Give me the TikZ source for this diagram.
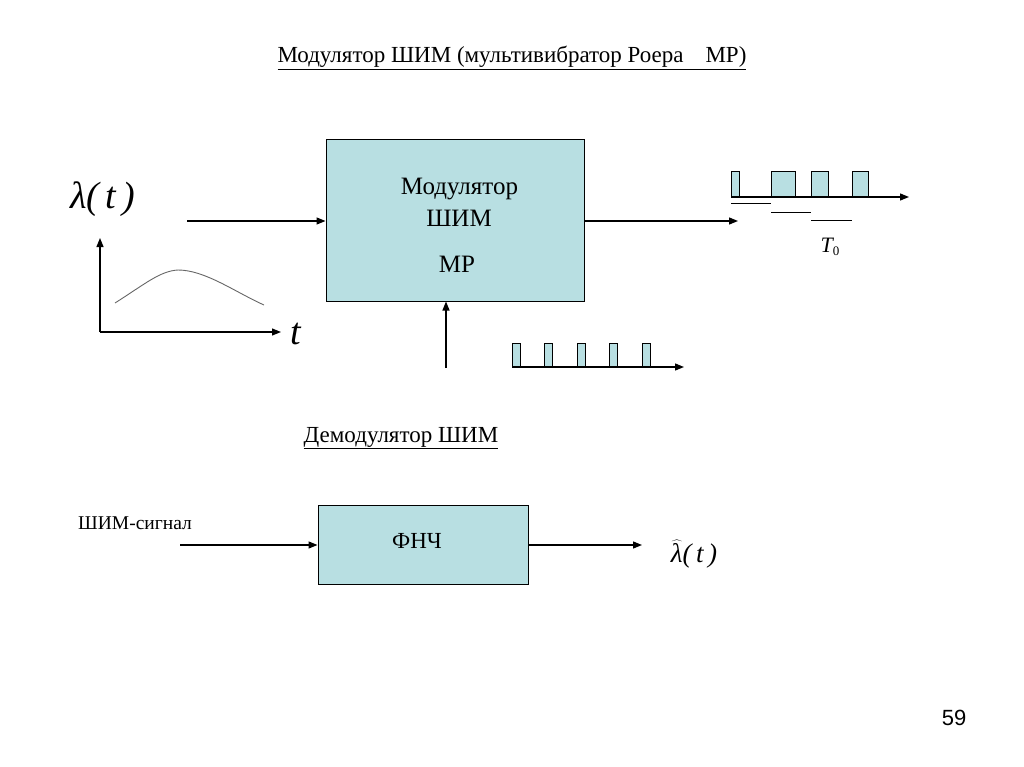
\documentclass[tikz,border=0pt]{standalone}
\usepackage{fontspec}
\setmainfont{Liberation Serif}
\newfontfamily\numfont{Liberation Sans}
\usetikzlibrary{arrows.meta}
\definecolor{boxfill}{HTML}{B8DFE2}
\begin{document}
\begin{tikzpicture}[x=1pt,y=-1pt,
  blk/.style={draw=black,fill=boxfill,line width=1pt,inner sep=0pt},
  arr/.style={line width=1.3pt,-{Triangle[length=9pt,width=7pt]}},
  pulse/.style={draw=black,fill=boxfill,line width=1pt},
  txt/.style={inner sep=0pt,font=\fontsize{23}{25}\selectfont}]
\useasboundingbox (0,0) rectangle (1024,767);
% title
\node[txt,anchor=base] (title) at (512,63) {\underline{Модулятор ШИМ (мультивибратор Роера\hspace{22pt}МР)}};
% modulator box
\node[blk,minimum width=258pt,minimum height=161pt] (mod) at (455,220.5) {};
\node[txt,anchor=base,font=\fontsize{25}{27}\selectfont] (m1) at (459.5,195) {Модулятор};
\node[txt,anchor=base,font=\fontsize{25}{27}\selectfont] (m2) at (459,226) {ШИМ};
\node[txt,anchor=base,font=\fontsize{25}{27}\selectfont] (m3) at (457,272) {МР};
% input
\coordinate (inA) at (187,221);
\draw[arr] (inA) -- (mod.west |- inA);
\node[txt,anchor=base,font=\fontsize{38}{40}\selectfont\itshape] (lam) at (103,209) {λ(\,t\,)};
% axes
\coordinate (org) at (100,332);
\coordinate (yend) at (100,238);
\coordinate (xend) at (281,332);
\draw[arr,line width=1.2pt] (org) -- (yend);
\draw[arr,line width=1.2pt] (org) -- (xend);
\node[txt,anchor=base,font=\fontsize{38}{40}\selectfont\itshape] (tlab) at (296,344) {t};
\draw[gray!80!black,line width=0.9pt] (115,303) .. controls (145,284) and (160,271) .. (178,270) .. controls (205,270) and (235,292) .. (264,305);
% output
\coordinate (outB) at (738,221);
\draw[arr] (mod.east |- outB) -- (outB);
% upper pulses
\draw[pulse] (731,197) rectangle (739,172);
\draw[pulse] (771,197) rectangle (795,172);
\draw[pulse] (811,197) rectangle (828,172);
\draw[pulse] (852,197) rectangle (868,172);
\coordinate (p1s) at (731,197);
\coordinate (p1e) at (909,197);
\draw[arr] (p1s) -- (p1e);
\draw[line width=1pt] (731,204) -- (771,204);
\draw[line width=1pt] (771,213) -- (811,213);
\draw[line width=1pt] (811,221) -- (852,221);
\node[txt,anchor=base,font=\fontsize{22}{24}\selectfont\itshape] (T0) at (830,252) {T\raisebox{-3pt}{\fontsize{13}{14}\selectfont\upshape 0}};
% lower clock input
\coordinate (clk) at (446,368);
\draw[arr] (clk) -- (clk |- mod.south);
\draw[pulse] (512,367) rectangle (520,343);
\draw[pulse] (544,367) rectangle (552,343);
\draw[pulse] (577,367) rectangle (585,343);
\draw[pulse] (609,367) rectangle (617,343);
\draw[pulse] (642,367) rectangle (650,343);
\coordinate (p2s) at (512,367);
\coordinate (p2e) at (684,367);
\draw[arr] (p2s) -- (p2e);
% demodulator
\node[txt,anchor=base] (dtitle) at (401,442) {\underline{Демодулятор ШИМ}};
\node[blk,minimum width=210pt,minimum height=79pt] (lpf) at (423,544.5) {};
\node[txt,anchor=base] (lpft) at (417,548) {ФНЧ};
\node[txt,anchor=base,font=\fontsize{19.5}{21}\selectfont] (sig) at (135,529) {ШИМ-сигнал};
\coordinate (sigA) at (180,545);
\draw[arr] (sigA) -- (lpf.west |- sigA);
\coordinate (outC) at (642,545);
\draw[arr] (lpf.east |- outC) -- (outC);
\node[txt,anchor=base,font=\fontsize{27}{29}\selectfont\itshape] (lamhat) at (694,562) {$\widehat{\hbox{λ}}$(\,t\,)};
\node[txt,anchor=base,font=\fontsize{22}{24}\selectfont\numfont] (pg) at (954,725) {59};
\end{tikzpicture}
\end{document}
